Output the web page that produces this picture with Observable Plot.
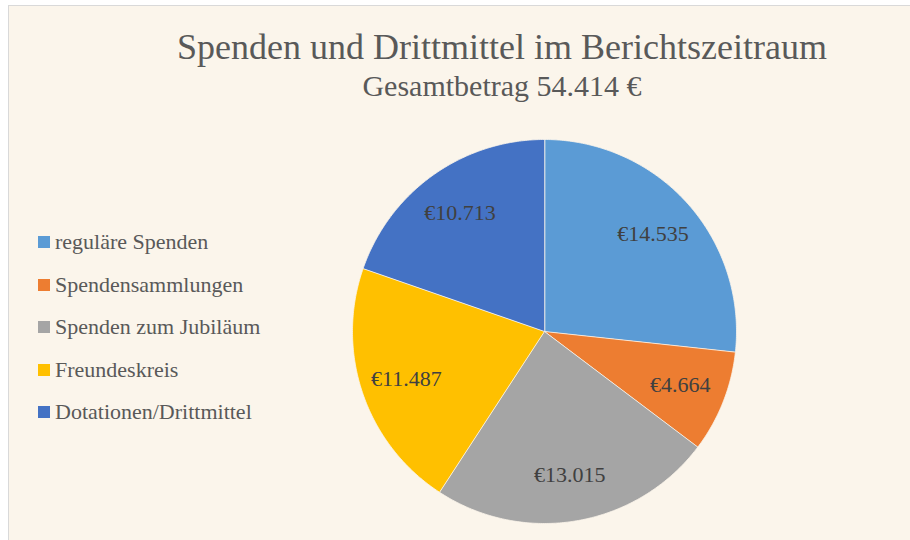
<!DOCTYPE html>
<html>
<head>
<meta charset="utf-8">
<script src="https://cdn.jsdelivr.net/npm/d3@7"></script>
<script src="https://cdn.jsdelivr.net/npm/@observablehq/plot@0.6"></script>
<style>
  html, body { margin: 0; padding: 0; background: #ffffff; }
  #frame {
    position: absolute; left: 8px; top: 5px; width: 910px; height: 540px;
    background: #FBF5EB; border-left: 1px solid #D9D9D9; border-top: 1px solid #D9D9D9;
    font-family: "Liberation Serif", "DejaVu Serif", serif; color: #595959;
    overflow: hidden;
  }
  #chart { position: absolute; left: -9px; top: -6px; }
  .title { position: absolute; left: 0; width: 986px; text-align: center; white-space: nowrap; }
  #t1 { top: 20px; font-size: 36px; }
  #t2 { top: 63px; font-size: 30px; }
  #legend { position: absolute; left: 29px; top: 215px; }
  .item { height: 42.5px; display: flex; align-items: center; font-size: 22px; white-space: nowrap; }
  .sw { width: 12px; height: 12px; margin-right: 5px; flex: none; }
</style>
</head>
<body>
<div id="frame">
  <div id="chart"></div>
  <div class="title" id="t1"></div>
  <div class="title" id="t2"></div>
  <div id="legend"></div>
</div>
<script>
const title = "Spenden und Drittmittel im Berichtszeitraum";
const subtitle = "Gesamtbetrag 54.414 €";
const categories = ["reguläre Spenden", "Spendensammlungen", "Spenden zum Jubiläum", "Freundeskreis", "Dotationen/Drittmittel"];
const values = [14535, 4664, 13015, 11487, 10713];
const colors = ["#5B9BD5", "#ED7D31", "#A5A5A5", "#FFC000", "#4472C4"];
const labels = ["€14.535", "€4.664", "€13.015", "€11.487", "€10.713"];

document.getElementById("t1").textContent = title;
document.getElementById("t2").textContent = subtitle;

const legend = document.getElementById("legend");
categories.forEach((c, i) => {
  const d = document.createElement("div");
  d.className = "item";
  const s = document.createElement("span");
  s.className = "sw"; s.style.background = colors[i];
  d.appendChild(s);
  d.appendChild(document.createTextNode(c));
  legend.appendChild(d);
});

// pie geometry from data via d3.pie (angles clockwise from 12 o'clock)
const arcs = d3.pie().sort(null).value(d => d)(values);
const polys = [];
const labelPts = [];
arcs.forEach((a, i) => {
  const n = Math.max(2, Math.ceil((a.endAngle - a.startAngle) / 0.01));
  polys.push({cat: categories[i], x: 0, y: 0});
  for (let k = 0; k <= n; k++) {
    const t = a.startAngle + (a.endAngle - a.startAngle) * k / n;
    polys.push({cat: categories[i], x: Math.sin(t), y: Math.cos(t)});
  }
  const m = (a.startAngle + a.endAngle) / 2;
  labelPts.push({cat: categories[i], label: labels[i], x: 0.76 * Math.sin(m), y: 0.76 * Math.cos(m)});
});

const W = 910, H = 540, R = 192, CX = 544, CY = 331;
const chart = Plot.plot({
  width: W, height: H,
  marginLeft: CX - R, marginRight: W - CX - R,
  marginTop: CY - R, marginBottom: H - CY - R,
  x: {domain: [-1, 1], axis: null},
  y: {domain: [-1, 1], axis: null},
  color: {domain: categories, range: colors},
  style: {background: "transparent", overflow: "visible"},
  marks: [
    Plot.line(polys, {x: "x", y: "y", z: "cat", fill: "cat", stroke: "#FBF5EB", strokeWidth: 0.8, curve: "linear-closed"}),
    Plot.text(labelPts, {x: "x", y: "y", text: "label", fill: "#404040", fontSize: 22, fontFamily: "Liberation Serif"})
  ]
});
document.getElementById("chart").appendChild(chart);
</script>
</body>
</html>
